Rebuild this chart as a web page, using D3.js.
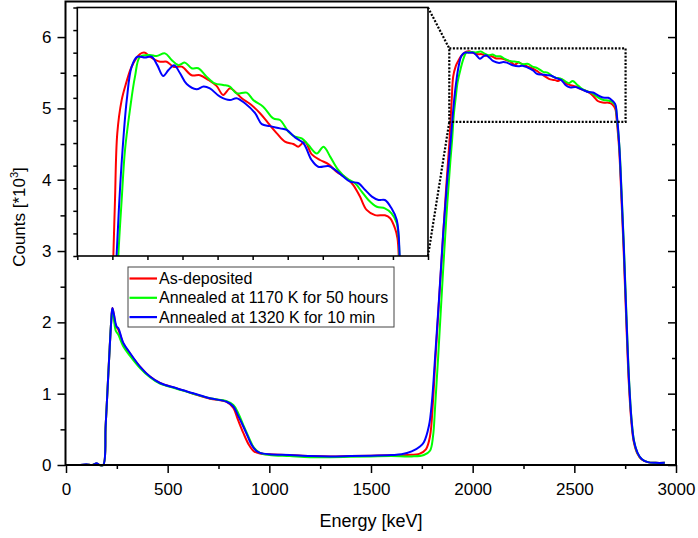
<!DOCTYPE html>
<html>
<head>
<meta charset="utf-8">
<script src="https://cdn.jsdelivr.net/npm/d3@7"></script>
<style>
  body { margin: 0; background: #fff; }
  svg { display: block; font-family: "Liberation Sans", Arial, sans-serif; }
</style>
</head>
<body>
<div id="chart"></div>
<script>
// RBS spectra, counts in thousands vs energy in keV
const seriesNames = ["As-deposited", "Annealed at 1170 K for 50 hours", "Annealed at 1320 K for 10 min"];
const seriesColors = ["#ff0000", "#00ff00", "#0000ff"];

const asDepE = [70, 100, 130, 150, 165, 183, 195, 205, 215, 222, 228, 235, 245, 257, 282, 315, 364, 413, 462, 544, 626, 708, 790, 823, 845, 872, 900, 925, 954, 1000, 1100, 1200, 1300, 1400, 1500, 1600, 1680, 1740, 1770, 1790, 1805, 1815, 1830, 1850, 1870, 1885,
  1893, 1897.5, 1904, 1916.5, 1929, 1945, 1969, 1983, 1997, 2026, 2045, 2064, 2088, 2116, 2140, 2164, 2187, 2206, 2225, 2240, 2259, 2283, 2311, 2335, 2359, 2382, 2406, 2420, 2439, 2458, 2482, 2506, 2529, 2558, 2577, 2596, 2615, 2639, 2667, 2682, 2696, 2703,
  2708, 2720, 2730, 2742, 2755, 2768, 2780, 2792, 2810, 2830, 2860, 2900, 2945];
const asDepC = [0, 0.005, 0, 0.02, 0, 0, 0.55, 1.1, 1.65, 2.0, 2.2, 2.12, 1.95, 1.9, 1.7, 1.56, 1.38, 1.24, 1.15, 1.075, 1.0, 0.93, 0.885, 0.8, 0.64, 0.45, 0.28, 0.19, 0.16, 0.15, 0.14, 0.125, 0.12, 0.125, 0.13, 0.135, 0.14, 0.16, 0.22, 0.4, 0.9, 1.4, 2.1, 3.0, 3.9, 4.5,
  4.91, 5.148, 5.443, 5.59, 5.664, 5.738, 5.794, 5.8, 5.782, 5.76, 5.76, 5.738, 5.738, 5.7, 5.7, 5.679, 5.653, 5.613, 5.642, 5.627, 5.598, 5.573, 5.532, 5.487, 5.443, 5.406, 5.396, 5.384, 5.406, 5.351, 5.325, 5.307, 5.273, 5.244, 5.214, 5.163, 5.104, 5.081, 5.08, 5.067, 5.022, 4.978,
  4.85, 4.45, 3.85, 3.05, 2.05, 1.15, 0.62, 0.33, 0.16, 0.08, 0.04, 0.03, 0.03];

const ann1170E = [70, 100, 130, 150, 165, 183, 195, 205, 215, 222, 228, 235, 245, 257, 282, 315, 364, 413, 462, 544, 626, 708, 790, 823, 845, 872, 900, 925, 954, 1000, 1100, 1200, 1300, 1400, 1500, 1600, 1700, 1760, 1790, 1805, 1815, 1830, 1850, 1870, 1890, 1900,
  1907, 1916.5, 1926, 1940, 1954.5, 1969, 1997, 2016, 2040, 2059, 2078, 2097, 2116, 2135, 2158.6, 2182, 2206, 2225, 2244, 2273, 2292, 2320, 2349, 2368, 2392, 2411, 2430, 2449, 2473, 2492, 2511, 2534, 2558, 2582, 2601, 2620, 2644, 2667, 2686, 2701,
  2710, 2722, 2732, 2744, 2757, 2770, 2782, 2794, 2812, 2832, 2862, 2900, 2945];
const ann1170C = [0, 0.005, 0, 0.02, 0, 0, 0.55, 1.1, 1.65, 2.0, 2.18, 2.05, 1.88, 1.83, 1.66, 1.53, 1.36, 1.23, 1.14, 1.07, 1.0, 0.935, 0.895, 0.84, 0.74, 0.56, 0.38, 0.24, 0.17, 0.14, 0.125, 0.11, 0.11, 0.115, 0.12, 0.125, 0.12, 0.14, 0.2, 0.4, 0.8, 1.5, 2.5, 3.45, 4.25, 4.6,
  4.9, 5.148, 5.369, 5.546, 5.694, 5.782, 5.79, 5.785, 5.797, 5.768, 5.745, 5.756, 5.731, 5.731, 5.694, 5.664, 5.657, 5.65, 5.62, 5.623, 5.59, 5.561, 5.509, 5.502, 5.45, 5.428, 5.421, 5.391, 5.354, 5.384, 5.34, 5.281, 5.244, 5.222, 5.185, 5.148, 5.118, 5.111, 5.089, 5.045,
  4.85, 4.45, 3.85, 3.05, 2.05, 1.15, 0.62, 0.33, 0.16, 0.08, 0.04, 0.03, 0.03];

const ann1320E = [70, 100, 130, 150, 165, 183, 195, 205, 215, 222, 228, 235, 249, 257, 282, 315, 364, 413, 462, 544, 626, 708, 790, 823, 845, 872, 900, 913, 935, 954, 1000, 1100, 1200, 1300, 1400, 1500, 1600, 1650, 1700, 1741, 1760, 1785, 1800, 1815, 1835, 1855, 1875, 1892,
  1902, 1910, 1919, 1931, 1945, 1961, 1983, 2002, 2018, 2035, 2050, 2066, 2083, 2102, 2130, 2150, 2168, 2197, 2225, 2244, 2268, 2297, 2316, 2339, 2368, 2387, 2411, 2435, 2458, 2477, 2506, 2525, 2549, 2568, 2592, 2611, 2630, 2649, 2667, 2686, 2701,
  2710, 2721, 2731, 2743, 2756, 2769, 2781, 2793, 2811, 2831, 2861, 2900, 2945];
const ann1320C = [0, 0.01, 0, 0.025, 0, 0, 0.55, 1.1, 1.65, 2.0, 2.2, 2.12, 1.94, 1.92, 1.71, 1.57, 1.38, 1.24, 1.15, 1.075, 1.005, 0.935, 0.887, 0.82, 0.7, 0.54, 0.36, 0.28, 0.2, 0.17, 0.15, 0.14, 0.125, 0.12, 0.125, 0.13, 0.14, 0.15, 0.19, 0.26, 0.32, 0.55, 0.9, 1.5, 2.35, 3.25, 4.0, 4.55,
  4.9, 5.148, 5.369, 5.59, 5.738, 5.782, 5.779, 5.782, 5.745, 5.697, 5.723, 5.744, 5.709, 5.661, 5.638, 5.65, 5.642, 5.605, 5.59, 5.598, 5.576, 5.532, 5.484, 5.475, 5.465, 5.458, 5.425, 5.399, 5.325, 5.295, 5.298, 5.281, 5.251, 5.229, 5.222, 5.192, 5.163, 5.148, 5.148, 5.111, 5.059,
  4.88, 4.48, 3.88, 3.08, 2.08, 1.18, 0.64, 0.34, 0.17, 0.085, 0.04, 0.03, 0.03];

const xMajor = [0, 500, 1000, 1500, 2000, 2500, 3000];
const xMinor = [250, 750, 1250, 1750, 2250, 2750];
const yMajor = [0, 1, 2, 3, 4, 5, 6];
const yMinor = [0.5, 1.5, 2.5, 3.5, 4.5, 5.5];
const insetXTicks = [1790, 1890, 1990, 2090, 2190, 2290, 2390, 2490, 2590, 2690, 2790];
const insetYTicks = [4.9, 5.0, 5.1, 5.2, 5.3, 5.4, 5.5, 5.6, 5.7, 5.8, 5.9, 6.0];
// zoomed region marked on the main plot
const zoomBoxE = [1885, 2752];
const zoomBoxC = [4.81, 5.84];

const series = [
  { name: seriesNames[0], color: seriesColors[0], e: asDepE, c: asDepC },
  { name: seriesNames[1], color: seriesColors[1], e: ann1170E, c: ann1170C },
  { name: seriesNames[2], color: seriesColors[2], e: ann1320E, c: ann1320C }
];

const width = 698, height = 538;
const svg = d3.select("#chart").append("svg")
  .attr("width", width).attr("height", height);

const x = d3.scaleLinear().domain([0, 3000]).range([66, 676]);
const y = d3.scaleLinear().domain([0, 6.5]).range([465, 1.4]);

const line = (sx, sy) => d3.line()
  .x(d => sx(d[0])).y(d => sy(d[1]))
  .curve(d3.curveCatmullRom.alpha(0.5));

function styleAxis(g) {
  g.select(".domain").remove();
  g.selectAll(".tick line").attr("stroke", "#000").attr("stroke-width", 1.5);
  g.selectAll(".tick text").attr("fill", "#000").style("font-size", "17px")
    .style("font-family", "'Liberation Sans', Arial, sans-serif");
}

// main axes
svg.append("g").attr("transform", "translate(0,465)")
  .call(d3.axisBottom(x).tickValues(xMajor).tickSize(8).tickPadding(10).tickFormat(d3.format("d")))
  .call(styleAxis);
svg.append("g").attr("transform", "translate(0,465)")
  .call(d3.axisBottom(x).tickValues(xMinor).tickSize(4).tickFormat(""))
  .call(styleAxis);
svg.append("g").attr("transform", "translate(65.5,0)")
  .call(d3.axisLeft(y).tickValues(yMajor).tickSize(8).tickPadding(6).tickFormat(d3.format("d")))
  .call(styleAxis);
svg.append("g").attr("transform", "translate(65.5,0)")
  .call(d3.axisLeft(y).tickValues(yMinor).tickSize(5).tickFormat(""))
  .call(styleAxis);
// right side: inward ticks
svg.append("g").attr("transform", "translate(676,0)")
  .call(d3.axisLeft(y).tickValues(yMajor).tickSize(8).tickFormat(""))
  .call(styleAxis);
svg.append("g").attr("transform", "translate(676,0)")
  .call(d3.axisLeft(y).tickValues(yMinor).tickSize(4).tickFormat(""))
  .call(styleAxis);

// main curves
series.forEach(s => {
  svg.append("path")
    .datum(d3.zip(s.e, s.c))
    .attr("fill", "none")
    .attr("stroke", s.color)
    .attr("stroke-width", 2)
    .attr("stroke-linejoin", "round")
    .attr("d", line(x, y));
});

// main frame
svg.append("rect")
  .attr("x", 65.5).attr("y", 1.5)
  .attr("width", 676 - 65.5).attr("height", 465 - 1.5)
  .attr("fill", "none").attr("stroke", "#000").attr("stroke-width", 2);

// inset
const ix = d3.scaleLinear().domain([1790, 2790]).range([77.3, 428]);
const iy = d3.scaleLinear().domain([4.9, 6.0]).range([256, 7.5]);

svg.append("clipPath").attr("id", "insetClip")
  .append("rect")
  .attr("x", ix.range()[0]).attr("y", iy.range()[1])
  .attr("width", ix.range()[1] - ix.range()[0])
  .attr("height", iy.range()[0] - iy.range()[1]);

svg.append("rect")
  .attr("x", ix.range()[0]).attr("y", iy.range()[1])
  .attr("width", ix.range()[1] - ix.range()[0])
  .attr("height", iy.range()[0] - iy.range()[1])
  .attr("fill", "#fff");

const insetG = svg.append("g").attr("clip-path", "url(#insetClip)");
series.forEach(s => {
  insetG.append("path")
    .datum(d3.zip(s.e, s.c))
    .attr("fill", "none")
    .attr("stroke", s.color)
    .attr("stroke-width", 2)
    .attr("stroke-linejoin", "round")
    .attr("d", line(ix, iy));
});

svg.append("g").attr("transform", `translate(0,${iy.range()[0]})`)
  .call(d3.axisBottom(ix).tickValues(insetXTicks).tickSize(4).tickFormat(""))
  .call(styleAxis);
svg.append("g").attr("transform", `translate(${ix.range()[0]},0)`)
  .call(d3.axisLeft(iy).tickValues(insetYTicks).tickSize(4).tickFormat(""))
  .call(styleAxis);

svg.append("rect")
  .attr("x", ix.range()[0]).attr("y", iy.range()[1])
  .attr("width", ix.range()[1] - ix.range()[0])
  .attr("height", iy.range()[0] - iy.range()[1])
  .attr("fill", "none").attr("stroke", "#000").attr("stroke-width", 1.6);

// zoom box + connectors
const dotted = { stroke: "#000", "stroke-width": 2.2, "stroke-dasharray": "2,1.6", fill: "none" };
const zb = svg.append("rect")
  .attr("x", x(zoomBoxE[0])).attr("y", y(zoomBoxC[1]))
  .attr("width", x(zoomBoxE[1]) - x(zoomBoxE[0]))
  .attr("height", y(zoomBoxC[0]) - y(zoomBoxC[1]));
Object.entries(dotted).forEach(([k, v]) => zb.attr(k, v));

[[iy.range()[1], zoomBoxC[1]], [iy.range()[0], zoomBoxC[0]]].forEach(([py, c]) => {
  const l = svg.append("line")
    .attr("x1", ix.range()[1]).attr("y1", py)
    .attr("x2", x(zoomBoxE[0])).attr("y2", y(c));
  Object.entries(dotted).forEach(([k, v]) => l.attr(k, v));
});

// legend
const legend = svg.append("g").attr("transform", "translate(128,267)");
legend.append("rect")
  .attr("width", 266).attr("height", 60)
  .attr("fill", "#fff").attr("stroke", "#444").attr("stroke-width", 1);
series.forEach((s, i) => {
  const cy = 11.5 + i * 19.3;
  legend.append("line")
    .attr("x1", 1.5).attr("x2", 29)
    .attr("y1", cy).attr("y2", cy)
    .attr("stroke", s.color).attr("stroke-width", 2.2);
  legend.append("text")
    .attr("x", 31).attr("y", cy + 5.5)
    .style("font-size", "16px")
    .attr("fill", "#000")
    .text(s.name);
});

// axis titles
svg.append("text")
  .attr("x", 371).attr("y", 527)
  .attr("text-anchor", "middle")
  .style("font-size", "18px")
  .text("Energy [keV]");

const yt = svg.append("text")
  .attr("transform", "translate(25,217) rotate(-90)")
  .attr("text-anchor", "middle")
  .style("font-size", "17px");
yt.append("tspan").text("Counts [*10");
yt.append("tspan").attr("dy", -7).style("font-size", "11px").text("3");
yt.append("tspan").attr("dy", 7).text("]");
</script>
</body>
</html>
